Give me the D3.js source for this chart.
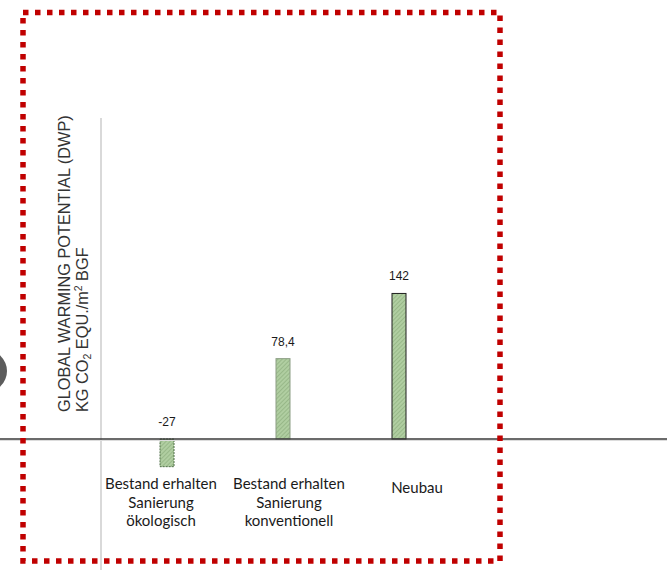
<!DOCTYPE html>
<html>
<head>
<meta charset="utf-8">
<script src="https://cdn.jsdelivr.net/npm/d3@7"></script>
<style>
  html, body { margin: 0; padding: 0; background: #fff; }
  svg { display: block; }
</style>
</head>
<body>
<svg id="chart" width="667" height="570"></svg>
<script>
// Categories (multi-line labels) and GWP values
const categories = ["oekologisch", "konventionell", "neubau"];
const categoryLines = [
  ["Bestand erhalten", "Sanierung", "ökologisch"],
  ["Bestand erhalten", "Sanierung", "konventionell"],
  ["Neubau"]
];
const gwpValues = [-27, 78.4, 142];

// Per-bar outline styles
const barStroke = ["#4f6e47", "#8c9d84", "#1e1e1e"];
const barDash = ["2,1", null, null];

const W = 667, H = 570;
const svg = d3.select("#chart");

const locale = d3.formatLocale({ decimal: ",", thousands: ".", grouping: [3], currency: ["", " €"], minus: "-" });
const fmt = locale.format("~f");

// Scales
const y = d3.scaleLinear().domain([-50, 200]).range([490.25, 234]);
const xBar = d3.scaleBand().domain(categories).range([109, 457]);
const xLabel = d3.scaleBand().domain(categories).range([97, 481]);
const barWidth = 14;

// Hatched green fill
const defs = svg.append("defs");
const pat = defs.append("pattern")
  .attr("id", "hatch")
  .attr("patternUnits", "userSpaceOnUse")
  .attr("width", 3).attr("height", 3)
  .attr("patternTransform", "rotate(45)");
pat.append("rect").attr("width", 3).attr("height", 3).attr("fill", "#b0cea1");
pat.append("line").attr("x1", 0).attr("y1", 0).attr("x2", 0).attr("y2", 3)
  .attr("stroke", "#88a979").attr("stroke-width", 1.2);

// Grey marker partly outside on the left edge
svg.append("circle").attr("cx", -14).attr("cy", 371).attr("r", 21)
  .attr("fill", "#5c5c5c");

// Light vertical separator line
svg.append("line")
  .attr("x1", 101).attr("x2", 101).attr("y1", 118).attr("y2", H)
  .attr("stroke", "#d9d9d9").attr("stroke-width", 2);

// Bars
const bars = svg.append("g");
bars.selectAll("rect").data(gwpValues).join("rect")
  .attr("x", (d, i) => xBar(categories[i]) + xBar.bandwidth() / 2 - barWidth / 2)
  .attr("y", d => y(Math.max(0, d)))
  .attr("width", barWidth)
  .attr("height", d => Math.abs(y(d) - y(0)))
  .attr("fill", "url(#hatch)")
  .attr("stroke", (d, i) => barStroke[i])
  .attr("stroke-dasharray", (d, i) => barDash[i])
  .attr("stroke-width", 1);

// Zero line across the full width
svg.append("line")
  .attr("x1", 0).attr("x2", W).attr("y1", y(0) + 1.5).attr("y2", y(0) + 1.5)
  .attr("stroke", "#dcdcdc").attr("stroke-width", 1);
svg.append("line")
  .attr("x1", 0).attr("x2", W).attr("y1", y(0)).attr("y2", y(0))
  .attr("stroke", "#3a3a3a").attr("stroke-width", 1.4);

// Value labels
svg.append("g").selectAll("text").data(gwpValues).join("text")
  .attr("x", (d, i) => xBar(categories[i]) + xBar.bandwidth() / 2)
  .attr("y", d => y(Math.max(0, d)) - 13)
  .attr("text-anchor", "middle")
  .attr("font-family", "'Liberation Sans', Arial, sans-serif")
  .attr("font-size", 12)
  .attr("fill", "#1a1a1a")
  .text(d => fmt(d));

// Category labels
const catG = svg.append("g")
  .attr("font-family", "Lato, 'Open Sans', sans-serif")
  .attr("font-size", 15)
  .attr("fill", "#1a1a1a")
  .attr("text-anchor", "middle");
categories.forEach((c, i) => {
  const lines = categoryLines[i];
  const t = catG.append("text")
    .attr("x", xLabel(c) + xLabel.bandwidth() / 2)
    .attr("y", lines.length === 1 ? 492.5 : 489);
  lines.forEach((ln, j) => {
    t.append("tspan")
      .attr("x", xLabel(c) + xLabel.bandwidth() / 2)
      .attr("dy", j === 0 ? 0 : 18.5)
      .text(ln);
  });
});

// Rotated axis title (two lines)
const title = svg.append("g")
  .attr("font-family", "'Liberation Sans', Arial, sans-serif")
  .attr("font-size", 16.3)
  .attr("fill", "#333");
title.append("text")
  .attr("transform", "translate(70,412) rotate(-90)")
  .text("GLOBAL WARMING POTENTIAL (DWP)");
const t2 = title.append("text")
  .attr("transform", "translate(87.5,412) rotate(-90)");
t2.append("tspan").text("KG CO");
t2.append("tspan").attr("font-size", 10.5).attr("dy", 3).text("2");
t2.append("tspan").attr("dy", -3).text(" EQU./m");
t2.append("tspan").attr("font-size", 10.5).attr("dy", -6).text("2");
t2.append("tspan").attr("dy", 6).text(" BGF");

// Red dotted frame
svg.append("rect")
  .attr("x", 23).attr("y", 12.5)
  .attr("width", 477).attr("height", 548.5)
  .attr("fill", "none")
  .attr("stroke", "#c00000")
  .attr("stroke-width", 5.5)
  .attr("stroke-dasharray", "5.5,6.5");
</script>
</body>
</html>
